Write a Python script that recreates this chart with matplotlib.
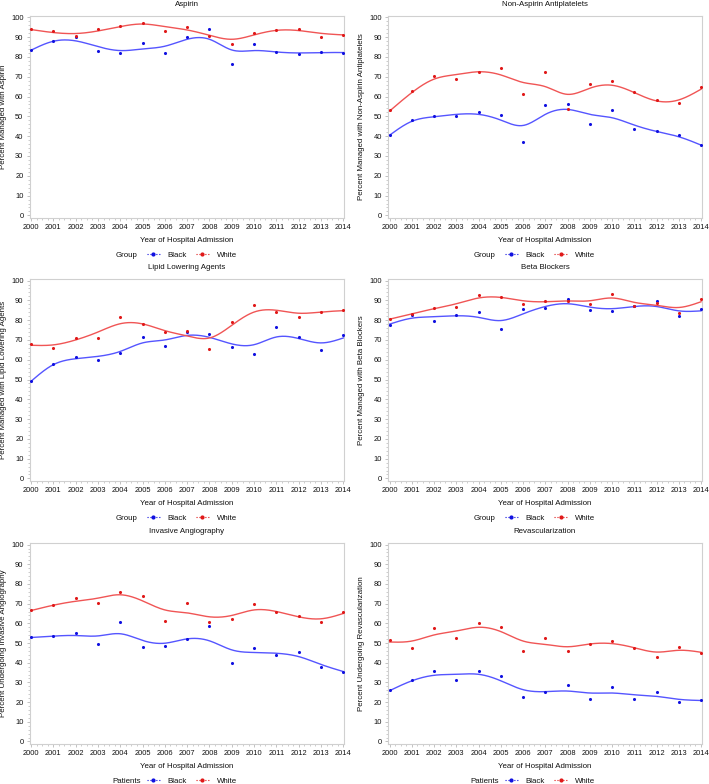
import numpy as np
import matplotlib
matplotlib.use("Agg")
import matplotlib.pyplot as plt
from matplotlib.lines import Line2D
from matplotlib.ticker import MultipleLocator, AutoMinorLocator

plt.rcParams['font.family'] = ['Liberation Sans', 'DejaVu Sans']

years = list(range(2000, 2015))

titles = ["Aspirin", "Non-Aspirin Antiplatelets", "Lipid Lowering Agents",
          "Beta Blockers", "Invasive Angiography", "Revascularization"]
ylabels = ["Percent Managed with Aspirin",
           "Percent Managed with Non-Aspirin Antiplatelets",
           "Percent Managed with Lipid Lowering Agents",
           "Percent Managed with Beta Blockers",
           "Percent Undergoing Invasive Angiography",
           "Percent Undergoing Revascularization"]
legend_titles = ["Group", "Group", "Group", "Group", "Patients", "Patients"]
groups = ["Black", "White"]

# observed points
aspirin_black = [83.7, 88.1, 90.0, 83.0, 81.8, 86.9, 82.0, 89.9, 94.0, 76.5, 86.6, 82.5, 81.3, 82.7, 82.0]
aspirin_white = [94.0, 92.9, 90.4, 94.1, 95.5, 97.3, 93.3, 95.1, 90.8, 86.7, 91.9, 93.8, 94.0, 90.1, 91.3]
nonasp_black = [40.5, 48.0, 50.0, 50.2, 52.2, 50.7, 37.0, 55.6, 56.4, 46.1, 53.4, 43.4, 42.6, 40.4, 35.5]
nonasp_white = [53.2, 62.8, 70.3, 69.1, 72.3, 74.5, 61.3, 72.3, 53.9, 66.2, 67.9, 62.2, 58.1, 56.9, 65.0]
lipid_black = [49.2, 58.0, 61.6, 59.9, 63.4, 71.3, 66.8, 73.9, 72.9, 66.6, 62.9, 76.4, 71.5, 65.1, 72.5]
lipid_white = [67.8, 66.1, 71.2, 71.2, 81.5, 78.2, 74.0, 74.5, 65.4, 79.1, 87.5, 84.3, 81.8, 84.3, 85.2]
beta_black = [77.5, 82.5, 79.5, 82.5, 84.1, 75.3, 85.4, 86.1, 90.5, 84.9, 84.6, 87.1, 89.5, 82.0, 85.4]
beta_white = [80.5, 82.9, 86.1, 86.6, 92.5, 91.9, 88.0, 89.7, 89.8, 88.1, 93.4, 87.1, 88.8, 83.7, 90.5]
angio_black = [52.8, 53.6, 55.2, 49.6, 60.7, 48.1, 48.6, 51.8, 58.4, 39.6, 47.7, 43.8, 45.2, 37.6, 35.5]
angio_white = [66.8, 69.2, 72.8, 70.1, 76.1, 73.9, 61.1, 70.1, 60.7, 62.3, 69.9, 66.0, 63.6, 60.9, 65.7]
revasc_black = [25.9, 31.4, 35.6, 31.0, 35.9, 33.2, 22.5, 24.9, 28.5, 21.4, 27.6, 21.7, 24.9, 19.8, 21.2]
revasc_white = [51.5, 47.6, 57.5, 52.5, 60.0, 58.1, 46.1, 52.7, 45.9, 49.7, 51.2, 47.6, 42.7, 48.0, 44.7]

# smoothed curves at each year
aspirin_black_fit = [83.4, 87.9, 88.1, 85.2, 83.2, 84.0, 85.4, 88.9, 88.9, 83.5, 83.2, 82.5, 82.0, 82.2, 82.2]
aspirin_white_fit = [93.8, 92.3, 91.8, 93.1, 95.3, 96.6, 95.3, 93.6, 90.9, 88.9, 91.1, 93.4, 93.3, 91.9, 91.1]
nonasp_black_fit = [40.5, 47.5, 49.8, 51.0, 51.0, 48.1, 45.4, 51.0, 53.5, 51.0, 49.3, 45.6, 42.4, 39.7, 35.5]
nonasp_white_fit = [52.7, 62.0, 68.8, 71.1, 72.5, 70.9, 67.1, 65.0, 61.1, 64.2, 65.7, 62.0, 57.8, 58.3, 63.7]
lipid_black_fit = [49.1, 57.5, 60.5, 61.7, 64.2, 68.5, 70.0, 72.3, 71.3, 68.0, 67.6, 71.5, 70.7, 68.5, 71.0]
lipid_white_fit = [67.3, 67.5, 70.0, 74.0, 78.2, 78.1, 74.7, 72.0, 71.0, 77.4, 84.1, 85.0, 83.5, 84.1, 84.8]
beta_black_fit = [78.0, 81.0, 81.7, 82.2, 81.4, 79.8, 83.2, 86.9, 88.3, 86.6, 85.8, 86.9, 86.9, 84.7, 84.7]
beta_white_fit = [80.5, 83.2, 85.8, 88.3, 91.2, 91.5, 89.8, 89.3, 89.7, 89.8, 91.2, 89.0, 87.5, 86.4, 89.3]
angio_black_fit = [52.8, 53.5, 53.8, 53.6, 54.7, 51.3, 49.9, 52.1, 51.1, 46.5, 45.2, 44.8, 43.1, 39.1, 35.5]
angio_white_fit = [66.5, 69.2, 71.2, 72.8, 74.5, 71.4, 66.8, 65.3, 63.3, 64.0, 66.8, 66.0, 63.3, 62.3, 65.0]
revasc_black_fit = [25.8, 30.8, 33.6, 34.1, 34.1, 30.8, 26.3, 25.3, 25.6, 24.6, 24.6, 23.7, 22.9, 21.4, 20.8]
revasc_white_fit = [50.5, 51.0, 54.1, 56.1, 58.0, 55.8, 51.0, 49.3, 48.1, 49.5, 49.7, 47.6, 45.4, 46.3, 45.3]

panels = [
    (aspirin_black, aspirin_white, aspirin_black_fit, aspirin_white_fit),
    (nonasp_black, nonasp_white, nonasp_black_fit, nonasp_white_fit),
    (lipid_black, lipid_white, lipid_black_fit, lipid_white_fit),
    (beta_black, beta_white, beta_black_fit, beta_white_fit),
    (angio_black, angio_white, angio_black_fit, angio_white_fit),
    (revasc_black, revasc_white, revasc_black_fit, revasc_white_fit),
]

BLUE_PT = "#1010e0"
RED_PT = "#e01818"
BLUE_LN = "#5555ff"
RED_LN = "#f05555"
GRAY = "#b8b8b8"
TXT = "#111111"


def natural_spline(x, y, n=400):
    x = np.asarray(x, float)
    y = np.asarray(y, float)
    k = len(x)
    h = np.diff(x)
    A = np.zeros((k, k))
    r = np.zeros(k)
    A[0, 0] = A[-1, -1] = 1
    for i in range(1, k - 1):
        A[i, i - 1] = h[i - 1]
        A[i, i] = 2 * (h[i - 1] + h[i])
        A[i, i + 1] = h[i]
        r[i] = 3 * ((y[i + 1] - y[i]) / h[i] - (y[i] - y[i - 1]) / h[i - 1])
    c = np.linalg.solve(A, r)
    xs = np.linspace(x[0], x[-1], n)
    idx = np.clip(np.searchsorted(x, xs) - 1, 0, k - 2)
    dx = xs - x[idx]
    b = (y[idx + 1] - y[idx]) / h[idx] - h[idx] * (2 * c[idx] + c[idx + 1]) / 3
    d = (c[idx + 1] - c[idx]) / (3 * h[idx])
    ys = y[idx] + b * dx + c[idx] * dx ** 2 + d * dx ** 3
    return xs, ys


W, H = 709, 784
fig = plt.figure(figsize=(W / 100, H / 100), dpi=100)

cols = [(29.7, 344.0), (388.3, 701.7)]
rows = [(15.7, 218.0), (279.0, 481.0), (543.0, 744.0)]

FS_T = 5.4
FS = 5.65
for p, (bk, wh, bkf, whf) in enumerate(panels):
    r, c = divmod(p, 2)
    x0, x1 = cols[c]
    t, b = rows[r]
    ax = fig.add_axes([x0 / W, 1 - b / H, (x1 - x0) / W, (b - t) / H])
    xs, ys = natural_spline(years, bkf)
    ax.plot(xs, ys, color=BLUE_LN, lw=1.0, zorder=2)
    xs, ys = natural_spline(years, whf)
    ax.plot(xs, ys, color=RED_LN, lw=1.0, zorder=2)
    ax.scatter(years, bk, s=5, color=BLUE_PT, zorder=3, linewidths=0)
    ax.scatter(years, wh, s=5, color=RED_PT, zorder=3, linewidths=0)
    ax.set_xlim(1999.94, 2014.03)
    ax.set_ylim(-1.3, 100.8)
    ax.xaxis.set_major_locator(MultipleLocator(1))
    ax.xaxis.set_minor_locator(AutoMinorLocator(4))
    ax.yaxis.set_major_locator(MultipleLocator(10))
    ax.yaxis.set_minor_locator(AutoMinorLocator(5))
    ax.set_xticks(years)
    ax.set_xticklabels([str(y) for y in years])
    ax.tick_params(axis="both", which="major", labelsize=FS_T, length=2.5,
                   width=0.6, color=GRAY, pad=2, labelcolor=TXT)
    ax.tick_params(axis="both", which="minor", length=1.3, width=0.5, color=GRAY)
    for s in ax.spines.values():
        s.set_color("#d0d0d0")
        s.set_linewidth(0.8)
    ax.set_title(titles[p], fontsize=FS, pad=7, color=TXT)
    ax.set_xlabel("Year of Hospital Admission", fontsize=FS, labelpad=4, color=TXT)
    ax.set_ylabel(ylabels[p], fontsize=FS, labelpad=3, color=TXT)

    # legend below
    cx = (x0 + x1) / 2
    ly = b + 37
    handles = [Line2D([], [], color=BLUE_PT, lw=0.8, ls=":", marker="o", markersize=2.0),
               Line2D([], [], color=RED_PT, lw=0.8, ls=":", marker="o", markersize=2.0)]
    fig.legend(handles, groups, loc="center", ncol=2, frameon=False,
               bbox_to_anchor=((cx + 5) / W, 1 - ly / H), fontsize=FS,
               handlelength=1.6, handletextpad=1.0, columnspacing=1.2,
               labelcolor=TXT)
    fig.text((cx - 60) / W, 1 - (ly + 0.8) / H, legend_titles[p], fontsize=FS,
             ha="center", va="center", color=TXT)

fig.savefig("out.png", dpi=100)
